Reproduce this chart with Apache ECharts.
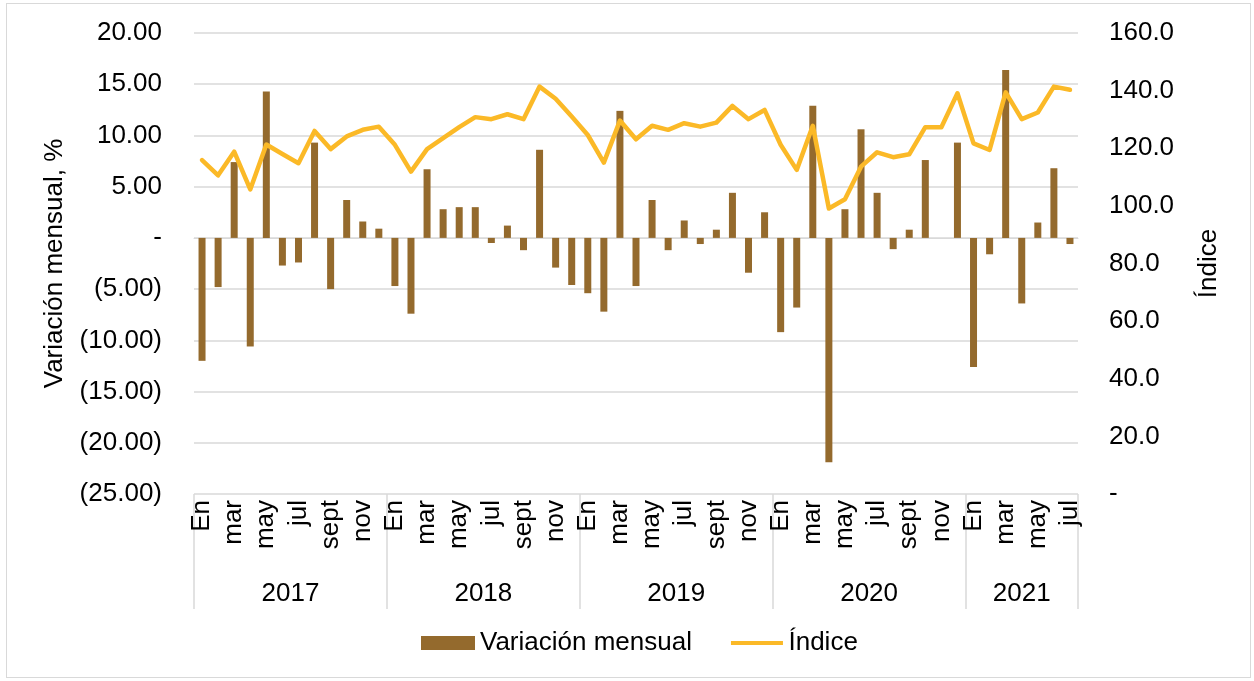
<!DOCTYPE html>
<html>
<head>
<meta charset="utf-8">
<script src="https://cdn.jsdelivr.net/npm/echarts@6/dist/echarts.min.js"></script>
<style>
  html, body { margin: 0; padding: 0; background: #fff; }
  #chart { width: 1254px; height: 681px; }
  #frame { position: absolute; left: 6px; top: 3px; width: 1245px; height: 675px; border: 1px solid #d9d9d9; box-sizing: border-box; pointer-events: none; }
</style>
</head>
<body>
<div id="chart"></div>
<div id="frame"></div>
<script>
// meses (solo se muestran los impares en el eje)
const monthNames = ['En', 'feb', 'mar', 'abr', 'may', 'jun', 'jul', 'ago', 'sept', 'oct', 'nov', 'dic'];
const years = ['2017', '2018', '2019', '2020', '2021'];
const monthsPerYear = [12, 12, 12, 12, 7];

// Variación mensual, %
const variacion2017 = [-12.0, -4.8, 7.4, -10.6, 14.3, -2.7, -2.4, 9.3, -5.0, 3.7, 1.6, 0.9];
const variacion2018 = [-4.7, -7.4, 6.7, 2.8, 3.0, 3.0, -0.5, 1.2, -1.2, 8.6, -2.9, -4.6];
const variacion2019 = [-5.4, -7.2, 12.4, -4.7, 3.7, -1.2, 1.7, -0.6, 0.8, 4.4, -3.4, 2.5];
const variacion2020 = [-9.2, -6.8, 12.9, -21.9, 2.8, 10.6, 4.4, -1.1, 0.8, 7.6, 0.0, 9.3];
const variacion2021 = [-12.6, -1.6, 16.4, -6.4, 1.5, 6.8, -0.6];

// Índice
const indice2017 = [115.9, 110.6, 118.8, 105.7, 121.3, 118.0, 114.8, 126.0, 119.7, 124.1, 126.4, 127.5];
const indice2018 = [121.2, 111.9, 119.7, 123.5, 127.3, 130.8, 130.1, 131.8, 130.1, 141.4, 137.2, 131.0];
const indice2019 = [124.6, 115.0, 129.6, 123.1, 127.8, 126.4, 128.7, 127.5, 128.9, 134.7, 130.1, 133.3];
const indice2020 = [121.2, 112.5, 127.8, 99.1, 102.3, 113.6, 118.6, 116.9, 117.9, 127.3, 127.3, 139.1];
const indice2021 = [121.7, 119.4, 139.4, 130.1, 132.4, 141.4, 140.3];

const variacion = [].concat(variacion2017, variacion2018, variacion2019, variacion2020, variacion2021);
const indice = [].concat(indice2017, indice2018, indice2019, indice2020, indice2021);

// categorías mes + año
const categories = [];
const yearStart = {}; // índice del primer mes de cada año
years.forEach((y, i) => {
  yearStart[categories.length] = true;
  for (let m = 0; m < monthsPerYear[i]; m++) {
    categories.push(y + '-' + monthNames[m]);
  }
});

// posición de la etiqueta del año (centro de su bloque)
const yearLabelAt = {};
let acc = 0;
years.forEach((y, i) => {
  const n = monthsPerYear[i];
  // si el bloque es par, el centro cae en un borde: se usa el mes siguiente y se desplaza
  const idx = acc + Math.floor(n / 2);
  yearLabelAt[idx] = { text: y, even: n % 2 === 0 };
  acc += n;
});

const textColor = '#000';
const gridColor = '#d9d9d9';
const barColor = '#946a2d';
const lineColor = '#fbb927';
const font = 'Liberation Sans, Arial, sans-serif';
const fs = 26;

const chart = echarts.init(document.getElementById('chart'));

const fmtLeft = (v) => {
  if (v === 0) return '-';
  if (v < 0) return '(' + Math.abs(v).toFixed(2) + ')';
  return v.toFixed(2);
};

const option = {
  animation: false,
  textStyle: { fontFamily: font },
  grid: { left: 194, right: 176, top: 33, bottom: 187 },
  legend: {
    bottom: 20,
    left: 416,
    itemGap: 38,
    itemWidth: 54,
    itemHeight: 14,
    textStyle: { color: textColor, fontSize: fs, fontFamily: font },
    data: [
      { name: 'Variación mensual', icon: 'rect' },
      // línea sola, sin símbolo
      { name: 'Índice', icon: 'path://M0,0L0,0ZM1,5L53,5L53,9L1,9ZM0,14L0,14Z' }
    ]
  },
  xAxis: [
    {
      type: 'category',
      data: categories,
      boundaryGap: true,
      axisLine: { show: true, lineStyle: { color: gridColor, width: 1 } },
      axisTick: { show: false },
      axisLabel: {
        interval: 1,
        rotate: 90,
        margin: 6,
        color: textColor,
        fontSize: fs,
        fontFamily: font,
        formatter: (v) => v.split('-')[1]
      }
    },
    {
      type: 'category',
      data: categories,
      position: 'bottom',
      boundaryGap: true,
      axisLine: { show: false },
      axisTick: {
        show: true,
        length: 115,
        interval: (i) => !!yearStart[i],
        lineStyle: { color: gridColor, width: 1.5 }
      },
      axisLabel: {
        interval: (i) => !!yearLabelAt[i],
        margin: 87,
        color: textColor,
        fontSize: fs,
        fontFamily: font,
        formatter: (v, i) => {
          const y = yearLabelAt[i];
          if (!y) return '';
          return y.even ? '{s|' + y.text + '}' : y.text;
        },
        rich: {
          s: { fontSize: fs, fontFamily: font, color: textColor, padding: [0, 16, 0, 0] }
        }
      },
      splitLine: { show: false }
    }
  ],
  yAxis: [
    {
      type: 'value',
      min: -25,
      max: 20,
      interval: 5,
      name: 'Variación mensual, %',
      nameLocation: 'middle',
      nameRotate: 90,
      nameGap: 126,
      nameTextStyle: { color: textColor, fontSize: fs, fontFamily: font },
      axisLine: { show: false },
      axisTick: { show: false },
      axisLabel: { color: textColor, fontSize: fs, fontFamily: font, margin: 32, formatter: fmtLeft },
      splitLine: { show: true, lineStyle: { color: gridColor, width: 1.5 } }
    },
    {
      type: 'value',
      min: 0,
      max: 160,
      interval: 20,
      name: 'Índice',
      nameLocation: 'middle',
      nameRotate: 90,
      nameGap: 118,
      nameTextStyle: { color: textColor, fontSize: fs, fontFamily: font },
      axisLine: { show: false },
      axisTick: { show: false },
      axisLabel: {
        color: textColor, fontSize: fs, fontFamily: font, margin: 31,
        formatter: (v) => (v === 0 ? '-' : v.toFixed(1))
      },
      splitLine: { show: false }
    }
  ],
  series: [
    {
      name: 'Variación mensual',
      type: 'bar',
      xAxisIndex: 0,
      yAxisIndex: 0,
      barWidth: 7,
      itemStyle: { color: barColor },
      data: variacion
    },
    {
      name: 'Índice',
      type: 'line',
      xAxisIndex: 0,
      yAxisIndex: 1,
      symbol: 'none',
      lineStyle: { color: lineColor, width: 4.5, join: 'round', cap: 'round' },
      itemStyle: { color: lineColor },
      data: indice
    }
  ]
};

chart.setOption(option);
</script>
</body>
</html>
